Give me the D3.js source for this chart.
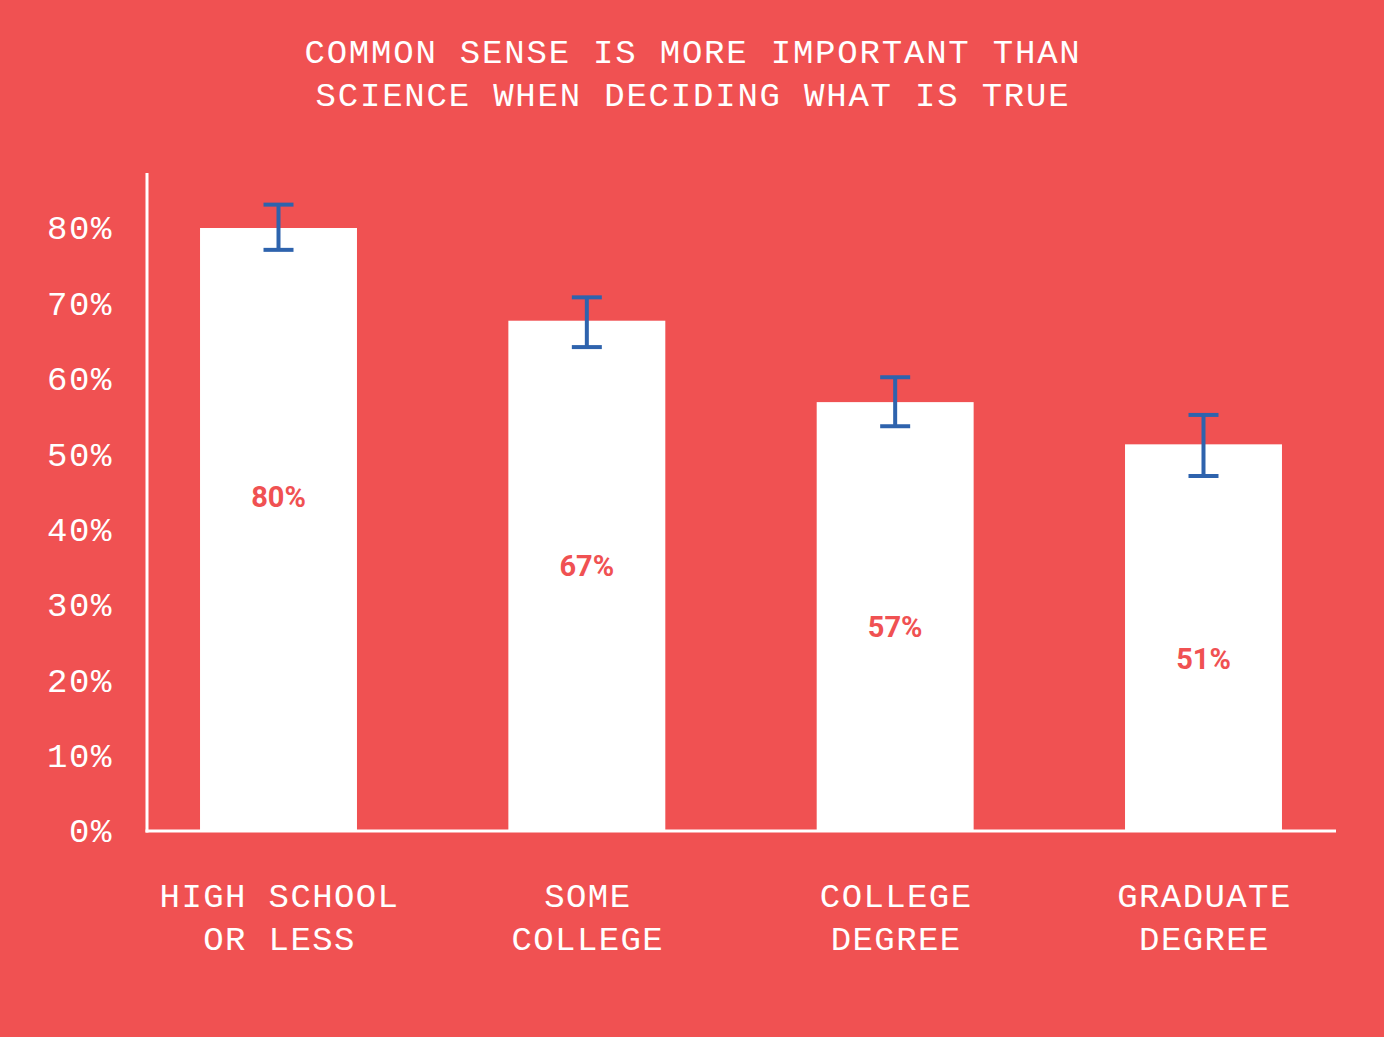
<!DOCTYPE html>
<html>
<head>
<meta charset="utf-8">
<script src="https://cdn.jsdelivr.net/npm/d3@7"></script>
<style>
  html, body { margin: 0; padding: 0; background: #f05152; }
  svg { display: block; }
  .mono { font-family: "Liberation Mono", "DejaVu Sans Mono", monospace; fill: #fff; }
</style>
</head>
<body>
<svg></svg>
<script>
// chart values
var categories = [["HIGH SCHOOL", "OR LESS"], ["SOME", "COLLEGE"], ["COLLEGE", "DEGREE"], ["GRADUATE", "DEGREE"]];
var values = [80, 67.7, 56.9, 51.3];
var valueLabels = ["80%", "67%", "57%", "51%"];
var errLow = [77.1, 64.2, 53.7, 47.1];
var errHigh = [83.1, 70.8, 60.2, 55.2];
var yTicks = [0, 10, 20, 30, 40, 50, 60, 70, 80];
var titleLines = ["COMMON SENSE IS MORE IMPORTANT THAN", "SCIENCE WHEN DECIDING WHAT IS TRUE"];

var config = {
  w: 1384,
  h: 1037,
  left: 147,
  right: 1336,
  top: 173,
  bottom: 831,
  red: "#f05152",
  blue: "#2e63ad"
};

var svg = d3.select("svg")
  .attr("width", config.w)
  .attr("height", config.h);

svg.append("rect")
  .attr("width", config.w)
  .attr("height", config.h)
  .attr("fill", config.red);

// scales
var x = d3.scaleBand()
  .domain(d3.range(values.length))
  .range([config.left, config.right - 1])
  .paddingInner(0.491)
  .paddingOuter(0.172);

var y = d3.scaleLinear()
  .domain([0, 80])
  .range([config.bottom, 228]);

// title
svg.append("text")
  .attr("class", "mono")
  .attr("text-anchor", "middle")
  .style("font-size", "34px")
  .style("letter-spacing", "1.8px")
  .selectAll("tspan")
  .data(titleLines)
  .enter().append("tspan")
    .attr("x", 693)
    .attr("y", function(d, i) { return 63 + i * 43; })
    .text(function(d) { return d; });

// bars
svg.selectAll("rect.bar")
  .data(values)
  .enter().append("rect")
    .attr("class", "bar")
    .attr("x", function(d, i) { return x(i); })
    .attr("y", function(d) { return y(d); })
    .attr("width", x.bandwidth())
    .attr("height", function(d) { return y(0) - y(d); })
    .attr("fill", "#fff");

// value labels inside bars
svg.selectAll("text.val")
  .data(values)
  .enter().append("text")
    .attr("class", "val")
    .attr("x", function(d, i) { return x(i) + x.bandwidth() / 2; })
    .attr("y", function(d) { return y(0.75 * d - 15.6); })
    .attr("dy", "0.36em")
    .attr("text-anchor", "middle")
    .style("font-family", "Roboto, 'Open Sans', sans-serif")
    .style("font-weight", "bold")
    .style("font-size", "29px")
    .attr("fill", config.red)
    .text(function(d, i) { return valueLabels[i]; });

// error bars
var err = svg.append("g")
  .attr("stroke", config.blue)
  .attr("stroke-width", 4)
  .attr("fill", "none");

values.forEach(function(d, i) {
  var cx = x(i) + x.bandwidth() / 2;
  err.append("line")
    .attr("x1", cx).attr("x2", cx)
    .attr("y1", y(errHigh[i])).attr("y2", y(errLow[i]));
  err.append("line")
    .attr("x1", cx - 15).attr("x2", cx + 15)
    .attr("y1", y(errHigh[i])).attr("y2", y(errHigh[i]));
  err.append("line")
    .attr("x1", cx - 15).attr("x2", cx + 15)
    .attr("y1", y(errLow[i])).attr("y2", y(errLow[i]));
});

// y axis
var yAxis = d3.axisLeft(y)
  .tickValues(yTicks)
  .tickSize(0)
  .tickPadding(0)
  .tickFormat(function(d) { return d + "%"; });

var gy = svg.append("g")
  .attr("transform", "translate(113,0)")
  .call(yAxis);
gy.select(".domain").remove();
gy.selectAll("text")
  .attr("class", "mono")
  .attr("fill", "#fff")
  .style("font-size", "34px")
  .style("letter-spacing", "1.6px");

// axis lines
svg.append("line")
  .attr("x1", config.left).attr("x2", config.left)
  .attr("y1", config.top).attr("y2", config.bottom + 1.5)
  .attr("stroke", "#fff").attr("stroke-width", 3);
svg.append("line")
  .attr("x1", config.left - 1.5).attr("x2", config.right)
  .attr("y1", config.bottom).attr("y2", config.bottom)
  .attr("stroke", "#fff").attr("stroke-width", 3);

// category labels
var cats = svg.selectAll("text.cat")
  .data(categories)
  .enter().append("text")
    .attr("class", "cat mono")
    .attr("text-anchor", "middle")
    .style("font-size", "34px")
    .style("letter-spacing", "1.4px");

cats.selectAll("tspan")
  .data(function(d, i) { return d.map(function(t) { return {t: t, i: i}; }); })
  .enter().append("tspan")
    .attr("x", function(d) { return x(d.i) + x.bandwidth() / 2 + 1; })
    .attr("y", function(d, j) { return 907 + j * 43; })
    .text(function(d) { return d.t; });
</script>
</body>
</html>
